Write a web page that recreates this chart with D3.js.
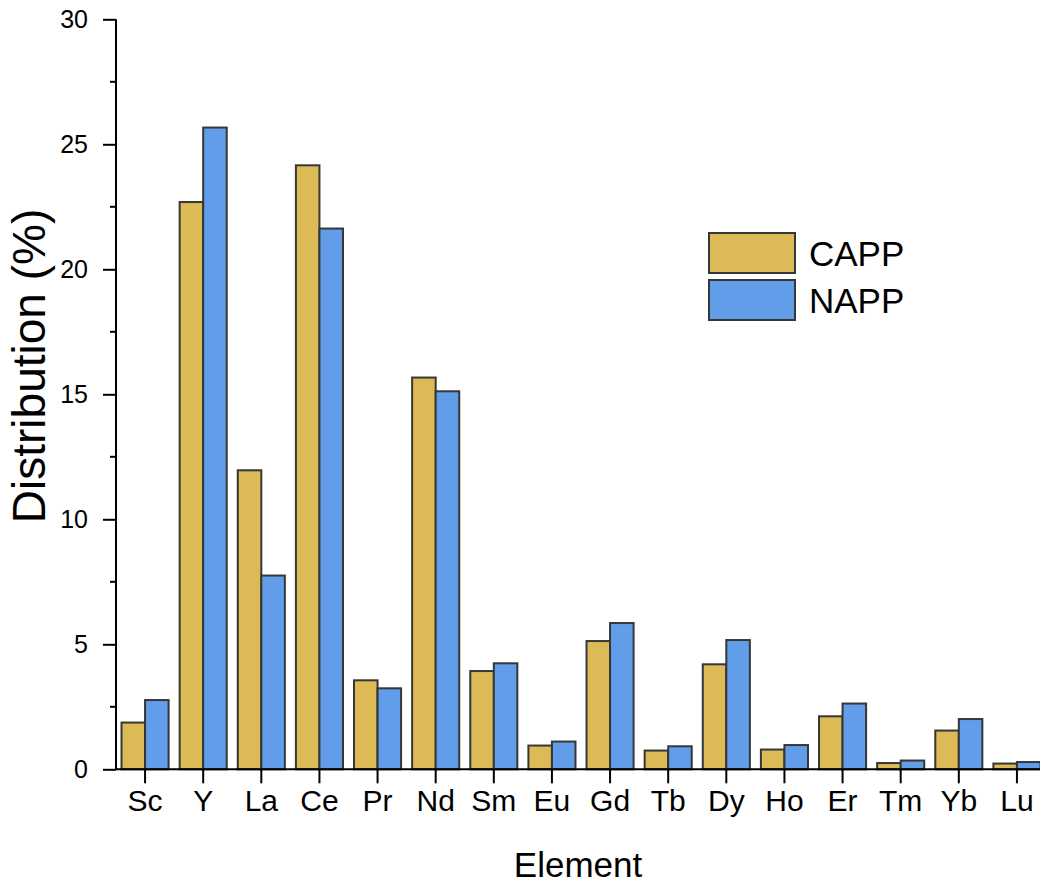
<!DOCTYPE html>
<html>
<head>
<meta charset="utf-8">
<script src="https://cdn.jsdelivr.net/npm/d3@7"></script>
<style>
  html, body { margin: 0; padding: 0; background: #fff; }
  svg { display: block; font-family: "Liberation Sans", Arial, sans-serif; }
</style>
</head>
<body>
<svg id="chart" width="1040" height="886"></svg>
<script>
// Rare-earth element distribution for two samples
const elements = ["Sc","Y","La","Ce","Pr","Nd","Sm","Eu","Gd","Tb","Dy","Ho","Er","Tm","Yb","Lu"];
const seriesNames = ["CAPP", "NAPP"];
const capp = [1.87, 22.69, 11.96, 24.16, 3.56, 15.67, 3.93, 0.95, 5.13, 0.75, 4.20, 0.79, 2.12, 0.25, 1.55, 0.23];
const napp = [2.77, 25.67, 7.75, 21.63, 3.24, 15.12, 4.24, 1.11, 5.85, 0.92, 5.17, 0.97, 2.63, 0.35, 2.01, 0.29];
const yTicks = [0, 5, 10, 15, 20, 25, 30];
const yMinorTicks = [2.5, 7.5, 12.5, 17.5, 22.5, 27.5];
const colors = { CAPP: "#dcba55", NAPP: "#629dea" };

const svg = d3.select("#chart");
const plotLeft = 116, plotRight = 1046, plotTop = 19.3, plotBottom = 769.3;

const x = d3.scaleBand().domain(elements).range([plotLeft, plotRight])
  .paddingInner(0.19).paddingOuter(0.095);
const xSub = d3.scaleBand().domain(seriesNames).range([0, x.bandwidth()]);
const y = d3.scaleLinear().domain([0, 30]).range([plotBottom, plotTop]);

const rows = elements.map((e, i) => ({ element: e, CAPP: capp[i], NAPP: napp[i] }));

// bars
const groups = svg.append("g").selectAll("g").data(rows).join("g")
  .attr("transform", d => `translate(${x(d.element)},0)`);
groups.selectAll("rect")
  .data(d => seriesNames.map(s => ({ key: s, value: d[s] })))
  .join("rect")
  .attr("x", d => xSub(d.key))
  .attr("y", d => y(d.value))
  .attr("width", xSub.bandwidth())
  .attr("height", d => y(0) - y(d.value))
  .attr("fill", d => colors[d.key])
  .attr("stroke", "#363636")
  .attr("stroke-width", 2);

// y axis: major and minor ticks
const yAxis = svg.append("g").attr("transform", `translate(${plotLeft},0)`)
  .call(d3.axisLeft(y).tickValues(yTicks).tickSize(13).tickPadding(15).tickFormat(d3.format("d")));
yAxis.select(".domain").attr("stroke", "#000").attr("stroke-width", 2).attr("d", `M0,${plotBottom}V${plotTop}`);
yAxis.selectAll(".tick line").attr("stroke", "#000").attr("stroke-width", 2);
yAxis.selectAll(".tick text").attr("font-size", 25).attr("fill", "#000")
  .attr("font-family", "'Liberation Sans', Arial, sans-serif");
svg.append("g").attr("transform", `translate(${plotLeft},0)`)
  .selectAll("line").data(yMinorTicks).join("line")
  .attr("x1", -6).attr("x2", 0)
  .attr("y1", d => y(d)).attr("y2", d => y(d))
  .attr("stroke", "#000").attr("stroke-width", 2);

// x axis
const xAxis = svg.append("g").attr("transform", `translate(0,${plotBottom})`)
  .call(d3.axisBottom(x).tickSize(14).tickPadding(6));
xAxis.select(".domain").attr("stroke", "#000").attr("stroke-width", 2).attr("d", `M${plotLeft - 1},0H1040`);
xAxis.selectAll(".tick line").attr("stroke", "#000").attr("stroke-width", 2);
xAxis.selectAll(".tick text").attr("font-size", 30).attr("fill", "#000")
  .attr("font-family", "'Liberation Sans', Arial, sans-serif");

// axis titles
svg.append("text").attr("x", 578).attr("y", 877).attr("text-anchor", "middle")
  .attr("font-size", 35).attr("fill", "#000").text("Element");
svg.append("text").attr("transform", "translate(45,366) rotate(-90)")
  .attr("text-anchor", "middle").attr("font-size", 46).attr("fill", "#000")
  .text("Distribution (%)");

// legend
const legend = svg.append("g").attr("transform", "translate(709,233)");
seriesNames.forEach((s, i) => {
  const g = legend.append("g").attr("transform", `translate(0,${i * 47})`);
  g.append("rect").attr("width", 86).attr("height", 40)
    .attr("fill", colors[s]).attr("stroke", "#363636").attr("stroke-width", 2);
  g.append("text").attr("x", 100).attr("y", 33).attr("font-size", 35)
    .attr("fill", "#000").text(s);
});
</script>
</body>
</html>
